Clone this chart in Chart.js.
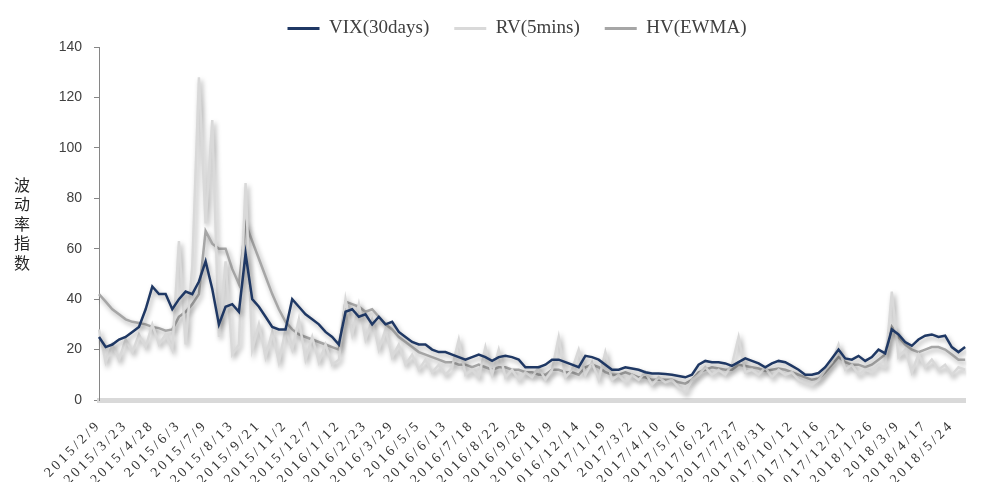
<!DOCTYPE html>
<html><head><meta charset="utf-8">
<script src="https://cdn.jsdelivr.net/npm/chart.js@4"></script>
<style>html,body{margin:0;padding:0;background:#fff}#wrap{width:994px;height:482px;position:relative}</style>
</head><body><div id="wrap"><canvas id="c" width="994" height="482"></canvas></div>
<script>
const tickLabels = ['2015/2/9','2015/3/23','2015/4/28','2015/6/3','2015/7/9','2015/8/13','2015/9/21','2015/11/2','2015/12/7','2016/1/12','2016/2/23','2016/3/29','2016/5/5','2016/6/13','2016/7/18','2016/8/22','2016/9/28','2016/11/9','2016/12/14','2017/1/19','2017/3/2','2017/4/10','2017/5/16','2017/6/22','2017/7/27','2017/8/31','2017/10/12','2017/11/16','2017/12/21','2018/1/26','2018/3/9','2018/4/17','2018/5/24'];
const samplesPerLabel = 4;
const seriesNames = ['VIX(30days)','RV(5mins)','HV(EWMA)'];
const yTitleChars = ['波','动','率','指','数'];

const vix = [25,21,22,24,25,27,29,36,45,42, 42,36,40,43,42,47,55,44,30,37, 38,35,58,40,37,33,29,28,28,40,
  37,34,32,30,27,25,22,35,36,33, 34,30,33,30,31,27,25,23,22,22, 20,19,19,18,17,16,17,18,17,15.5,
  17,17.5,17,16,13,13,13,14,16,16, 15,14,13,17.5,17,16,14,12,12,13, 12.5,12,11,10.5,10.5,10.3,10,9.5,9,10,
  14,15.5,15,15,14.5,13.5,15,16.5,15.5,14.5, 13,14.5,15.5,15,13.5,12,10,10,10.7,13,
  16.5,20,16.5,16,17.5,15.5,17,20,18.5,28, 26,23,21.5,24,25.5,26,25,25.5,21,19,21];
const rv = [28,15,22,16,24,19,26,21,30,22, 26,20,63,22,53,128,70,111,25,55, 18,22,86,20,30,17,27,15,28,20,
  32,16,25,15,22,14,16,40,26,38, 24,32,20,28,17,22,14,18,12,16, 11,14,10,13,24,10,12,9,21,10,
  20,9,12,8,11,9,13,8,12,25, 9,12,20,10,15,8,19,8,10,7, 10,8,11,6,9,7,8,5,3,8,
  10,13,10,12,10,14,25,11,12,10, 13,9,12,10,11,8,7,6,8,12,
  15,22,12,14,10,12,11,14,13,43, 17,20,11,18,13,16,12,14,10,13,12];
const hv = [42,39,36,34,32,31,30.5,30,29,28.5, 27.5,28,33,35,38,42,67,62,60,60, 52,46,70,63,56,49,42,36,31,28,
  26,25,24,23,22,21,20,39,38,37, 35,36,33,30,28,25,23,21,19,18, 17,16,15,15,14,14,13,14,13,12,
  13,13,12,12,11,11,10,10,12,12, 11,11,10,13,14,13,11,10,10,11, 10,9,9,8,8,8,8,7,6.5,8,
  11,12,13,12.5,12,12,14,13.5,13,12.5, 11.5,12,12.5,12,11,10,9,8,8.5,11,
  14,17,15,14,14,13,14,16,18,29, 25,22,20,19,20,21,21,20,18,16,16];

const categories = [];
tickLabels.forEach(l => { categories.push(l); for (let i = 1; i < samplesPerLabel; i++) categories.push(''); });
categories.length = vix.length;

const colors = ['#1f3864', '#d9d9d9', '#a6a6a6'];

const fixPlugin = {
  id: 'fixPlugin',
  beforeLayout(chart) {
    const lg = chart.legend;
    if (lg && !lg._fitPatched) {
      const orig = lg.fit;
      lg.fit = function () { orig.call(this); this.height = 53; };
      lg._fitPatched = true;
    }
  },
  beforeDraw(chart) {
    const sx = chart.scales.x;
    if (sx && !sx._lsPatched) {
      const orig = sx.drawLabels;
      sx.drawLabels = function (area) {
        const ctx = this.ctx; ctx.save(); ctx.letterSpacing = '3px'; orig.call(this, area); ctx.restore();
      };
      sx._lsPatched = true;
    }
  },
  beforeDatasetDraw(chart) {
    const ctx = chart.ctx; ctx.save();
    ctx.shadowColor = 'rgba(0,0,0,0.35)'; ctx.shadowBlur = 5; ctx.shadowOffsetX = 2; ctx.shadowOffsetY = 3;
  },
  afterDatasetDraw(chart) { chart.ctx.restore(); },
  afterDraw(chart) {
    const ctx = chart.ctx, a = chart.chartArea;
    ctx.save();
    ctx.font = '16px "Noto Sans CJK SC"'; ctx.fillStyle = '#262626';
    ctx.textAlign = 'center'; ctx.textBaseline = 'middle';
    const mid = (a.top + a.bottom) / 2, step = 19.5;
    yTitleChars.forEach((ch, i) => ctx.fillText(ch, 22, mid + (i - (yTitleChars.length - 1) / 2) * step));
    ctx.restore();
  }
};

const mk = (label, data, color) => ({
  label, data, borderColor: color, backgroundColor: color, borderWidth: 2.5,
  pointRadius: 0, tension: 0, fill: false
});

new Chart(document.getElementById('c'), {
  type: 'line',
  data: { labels: categories, datasets: [mk(seriesNames[0], vix, colors[0]), mk(seriesNames[1], rv, colors[1]), mk(seriesNames[2], hv, colors[2])] },
  options: {
    responsive: false, animation: false, devicePixelRatio: 1,
    layout: { padding: { left: 40, right: 0, top: -6, bottom: 0 } },
    plugins: {
      tooltip: { enabled: false },
      legend: {
        position: 'top', align: 'center',
        labels: {
          boxWidth: 32, boxHeight: 3, padding: 25, color: '#404040',
          font: { family: '"Liberation Serif", "Times New Roman", serif', size: 19 },
          generateLabels(chart) {
            const items = Chart.defaults.plugins.legend.labels.generateLabels(chart);
            items.forEach(it => { it.lineWidth = 0; it.fillStyle = it.strokeStyle; });
            return items;
          }
        }
      }
    },
    scales: {
      x: {
        type: 'category',
        grid: { display: false, drawTicks: false },
        border: { display: true, color: '#d9d9d9', width: 5 },
        ticks: {
          autoSkip: false, minRotation: 45, maxRotation: 45, padding: 17, color: '#333333',
          font: { family: '"Liberation Serif", "Times New Roman", serif', size: 14 }
        },
        afterFit(s) { s.height = 82; }
      },
      y: {
        min: 0, max: 140,
        grid: { display: true, drawOnChartArea: false, drawTicks: true, tickLength: 5, color: '#868686' },
        border: { display: true, color: '#868686', width: 1 },
        ticks: { stepSize: 20, padding: 12, color: '#404040', font: { family: '"Liberation Sans", Arial, sans-serif', size: 14 } },
        afterFit(s) { s.width = 59; }
      }
    }
  },
  plugins: [fixPlugin]
});
</script></body></html>
